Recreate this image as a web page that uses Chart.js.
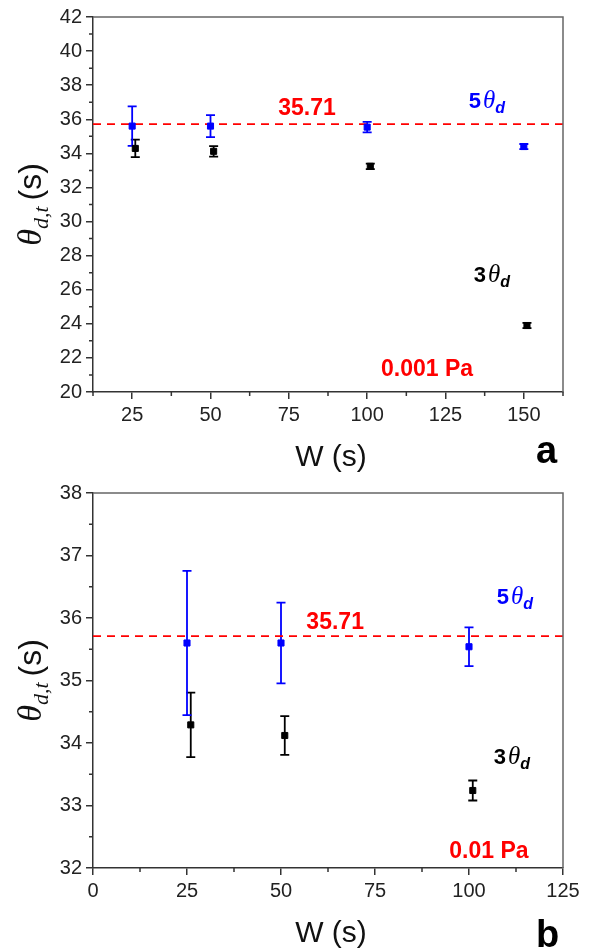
<!DOCTYPE html>
<html lang="en">
<head>
<meta charset="UTF-8">
<title>Dwell time vs window</title>
<script src="https://cdn.jsdelivr.net/npm/chart.js"></script>
<style>
  body { margin: 0; background: #fff; }
  .panel { position: absolute; left: 0; width: 593px; height: 476px; }
  #panelA { top: 0; }
  #panelB { top: 476px; }
</style>
</head>
<body>
<div class="panel" id="panelA"><canvas id="chartA"></canvas></div>
<div class="panel" id="panelB"><canvas id="chartB"></canvas></div>
<script>
// 5θd series (blue)
const wFive = [25, 50, 100, 150];
const thetaFive = [35.6, 35.6, 35.54, 34.4];
const errFive = [1.155, 0.645, 0.31, 0.15];
// 3θd series (black)
const wThree = [26, 51, 101, 151];
const thetaThree = [34.29, 34.12, 33.24, 23.9];
const errThree = [0.515, 0.31, 0.16, 0.15];
// reference level
const refLevel = 35.71;

// axes, panel a (0.001 Pa)
const xTicksA = [25, 50, 75, 100, 125, 150];
const xMinorA = [12.5, 37.5, 62.5, 87.5, 112.5, 137.5, 162.5];
const yTicksA = [20, 22, 24, 26, 28, 30, 32, 34, 36, 38, 40, 42];
const yMinorA = [21, 23, 25, 27, 29, 31, 33, 35, 37, 39, 41];
// axes, panel b (0.01 Pa)
const xTicksB = [0, 25, 50, 75, 100, 125];
const xMinorB = [12.5, 37.5, 62.5, 87.5, 112.5];
const yTicksB = [32, 33, 34, 35, 36, 37, 38];
const yMinorB = [32.5, 33.5, 34.5, 35.5, 36.5, 37.5];

const BLUE = '#0000ff';
const RED = '#ff0000';
const SANS = '"Liberation Sans", Arial, sans-serif';
const SERIF = '"Liberation Serif", "Times New Roman", serif';

function drawRich(ctx, parts, x, y) {
  // x = centre of the run, y = baseline
  let total = 0;
  parts.forEach(p => { ctx.font = p.font; total += ctx.measureText(p.text).width + (p.gap || 0); });
  let cx = x - total / 2;
  ctx.textAlign = 'left';
  ctx.textBaseline = 'alphabetic';
  parts.forEach(p => {
    ctx.font = p.font;
    ctx.fillStyle = p.color;
    ctx.fillText(p.text, cx, y + (p.dy || 0));
    cx += ctx.measureText(p.text).width + (p.gap || 0);
  });
}

function thetaLabel(lead, color) {
  return [
    { text: lead, font: 'bold 22px ' + SANS, color, gap: 2 },
    { text: 'θ', font: 'italic 25px ' + SERIF, color },
    { text: 'd', font: 'italic bold 16px ' + SANS, color, dy: 5 }
  ];
}

function scale(ticksArr, min, max, isY) {
  return {
    type: 'linear',
    min, max,
    afterBuildTicks: s => { s.ticks = ticksArr.map(v => ({ value: v })); },
    afterFit: s => { if (isY) s.width = 93; else s.height = 40; },
    grid: { drawOnChartArea: false, drawTicks: true, tickLength: 7, color: '#333', lineWidth: 1.5 },
    border: { display: true, color: '#333', width: 1.5 },
    ticks: {
      color: '#222',
      font: { family: SANS, size: 20 },
      padding: 4,
      maxRotation: 0,
      autoSkip: false
    }
  };
}

const panelPlugin = {
  id: 'panelExtras',
  beforeDatasetsDraw(chart) {
    const ctx = chart.ctx;
    const ys = chart.scales.y;
    ctx.save();
    chart.data.datasets.forEach((ds, i) => {
      if (!ds.errors) return;
      const meta = chart.getDatasetMeta(i);
      ctx.strokeStyle = ds.borderColor;
      ctx.lineWidth = 1.8;
      meta.data.forEach((pt, j) => {
        const hi = ys.getPixelForValue(ds.data[j].y + ds.errors[j]);
        const lo = ys.getPixelForValue(ds.data[j].y - ds.errors[j]);
        ctx.beginPath();
        ctx.moveTo(pt.x, hi); ctx.lineTo(pt.x, lo);
        ctx.moveTo(pt.x - 4.5, hi); ctx.lineTo(pt.x + 4.5, hi);
        ctx.moveTo(pt.x - 4.5, lo); ctx.lineTo(pt.x + 4.5, lo);
        ctx.stroke();
      });
    });
    ctx.restore();
  },
  afterDraw(chart, args, opts) {
    const ctx = chart.ctx;
    const a = chart.chartArea;
    const xs = chart.scales.x, ys = chart.scales.y;
    ctx.save();

    // top and right frame
    ctx.strokeStyle = '#666';
    ctx.lineWidth = 1.5;
    ctx.beginPath();
    ctx.moveTo(a.left, a.top); ctx.lineTo(a.right, a.top); ctx.lineTo(a.right, a.bottom);
    ctx.stroke();

    // minor ticks
    ctx.strokeStyle = '#333';
    ctx.beginPath();
    opts.xMinor.forEach(v => {
      const px = xs.getPixelForValue(v);
      ctx.moveTo(px, a.bottom); ctx.lineTo(px, a.bottom + 4);
    });
    opts.yMinor.forEach(v => {
      const py = ys.getPixelForValue(v);
      ctx.moveTo(a.left - 4, py); ctx.lineTo(a.left, py);
    });
    ctx.stroke();

    // annotations placed in data units
    opts.notes.forEach(n => {
      drawRich(ctx, n.parts, xs.getPixelForValue(n.x), ys.getPixelForValue(n.y));
    });

    // x title and panel letter
    drawRich(ctx, [{ text: 'W (s)', font: '30px ' + SANS, color: '#111' }], (a.left + a.right) / 2 + 3, 466);
    ctx.font = 'bold 38px ' + SANS;
    ctx.fillStyle = '#000';
    ctx.textAlign = 'left';
    ctx.fillText(opts.letter, 536, opts.letterY);

    // y title, rotated
    ctx.translate(41, (a.top + a.bottom) / 2);
    ctx.rotate(-Math.PI / 2);
    drawRich(ctx, [
      { text: 'θ', font: 'italic 34px ' + SERIF, color: '#111' },
      { text: 'd,t', font: 'italic 22px ' + SERIF, color: '#111', dy: 7, gap: 6 },
      { text: '(s)', font: '32px ' + SANS, color: '#111' }
    ], 0, 0);
    ctx.restore();
  }
};

function makeChart(id, n, xMin, xMax, xTicks, yMin, yMax, yTicks, extras) {
  const pts = (xsArr, ysArr) => xsArr.slice(0, n).map((x, i) => ({ x, y: ysArr[i] }));
  return new Chart(document.getElementById(id), {
    type: 'scatter',
    data: {
      datasets: [
        {
          label: '35.71',
          type: 'line',
          data: [{ x: xMin, y: refLevel }, { x: xMax, y: refLevel }],
          showLine: true,
          borderColor: RED,
          borderWidth: 1.7,
          borderDash: [8, 6],
          pointRadius: 0,
          order: 3
        },
        {
          label: '3θd',
          data: pts(wThree, thetaThree),
          errors: errThree.slice(0, n),
          borderColor: '#000',
          backgroundColor: '#000',
          pointStyle: 'rect',
          pointRadius: 4.3,
          pointBorderWidth: 1,
          order: 2
        },
        {
          label: '5θd',
          data: pts(wFive, thetaFive),
          errors: errFive.slice(0, n),
          borderColor: BLUE,
          backgroundColor: BLUE,
          pointStyle: 'rect',
          pointRadius: 4.3,
          pointBorderWidth: 1,
          order: 1
        }
      ]
    },
    options: {
      responsive: true,
      maintainAspectRatio: false,
      animation: false,
      layout: { padding: { left: 0, top: 17, right: 30, bottom: 44 } },
      plugins: {
        legend: { display: false },
        tooltip: { enabled: false },
        panelExtras: extras
      },
      scales: {
        x: scale(xTicks, xMin, xMax, false),
        y: scale(yTicks, yMin, yMax, true)
      }
    },
    plugins: [panelPlugin]
  });
}

makeChart('chartA', 4, 12.5, 162.5, xTicksA, 20, 42, yTicksA, {
  letter: 'a', letterY: 463,
  xMinor: xMinorA, yMinor: yMinorA,
  notes: [
    { x: 80.8, y: 36.25, parts: [{ text: '35.71', font: 'bold 23px ' + SANS, color: RED }] },
    { x: 138.2, y: 36.66, parts: thetaLabel('5', BLUE) },
    { x: 139.8, y: 26.45, parts: thetaLabel('3', '#000') },
    { x: 119.1, y: 20.94, parts: [{ text: '0.001 Pa', font: 'bold 23px ' + SANS, color: RED }] }
  ]
});

makeChart('chartB', 3, 0, 125, xTicksB, 32, 38, yTicksB, {
  letter: 'b', letterY: 471,
  xMinor: xMinorB, yMinor: yMinorB,
  notes: [
    { x: 64.4, y: 35.82, parts: [{ text: '35.71', font: 'bold 23px ' + SANS, color: RED }] },
    { x: 112.2, y: 36.22, parts: thetaLabel('5', BLUE) },
    { x: 111.4, y: 33.67, parts: thetaLabel('3', '#000') },
    { x: 105.3, y: 32.16, parts: [{ text: '0.01 Pa', font: 'bold 23px ' + SANS, color: RED }] }
  ]
});
</script>
</body>
</html>
